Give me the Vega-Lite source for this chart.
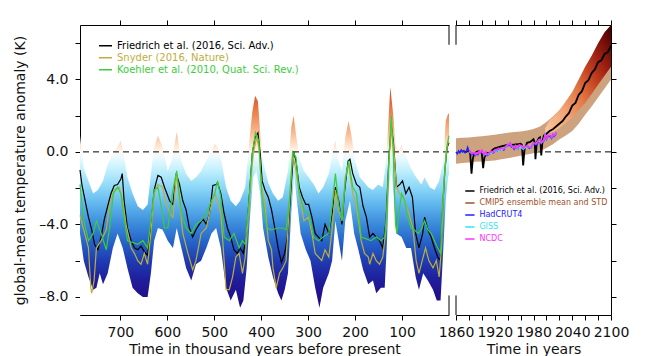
{
  "$schema": "https://vega.github.io/schema/vega-lite/v6.json",
  "background": "white",
  "padding": {"left": 13, "top": 19, "right": 5, "bottom": 2},
  "config": {
    "font": "DejaVu Sans",
    "view": {"stroke": null},
    "axis": {"domainColor": "#000", "tickColor": "#000", "labelColor": "#111", "titleColor": "#111", "labelFont": "DejaVu Sans", "titleFont": "DejaVu Sans", "labelFontSize": 14, "titleFontSize": 14, "titleFontWeight": "normal", "grid": false, "tickSize": 5, "labelFlush": false, "labelOverlap": false, "labelBound": false, "labelPadding": 7, "zindex": 1, "domainWidth": 1, "tickWidth": 1},
    "legend": {"labelFont": "DejaVu Sans"}
  },
  "datasets": {
    "lhi": [{"k":786,"v":0.9},{"k":778,"v":-0.9},{"k":768,"v":-1.6},{"k":758,"v":-2.3},{"k":748,"v":-2.1},{"k":737,"v":-1.6},{"k":727,"v":-0.7},{"k":716,"v":-0.1},{"k":706,"v":0.3},{"k":699,"v":0.6},{"k":692,"v":-0.3},{"k":685,"v":-1.4},{"k":674,"v":-2.3},{"k":663,"v":-3.0},{"k":652,"v":-3.2},{"k":642,"v":-2.9},{"k":635,"v":-1.2},{"k":628,"v":0.25},{"k":620,"v":0.9},{"k":610,"v":0.25},{"k":599,"v":-1.05},{"k":590,"v":-0.4},{"k":580,"v":1.1},{"k":570,"v":-0.5},{"k":560,"v":-1.2},{"k":549,"v":-1.6},{"k":539,"v":-1.4},{"k":528,"v":-1.05},{"k":517,"v":-0.5},{"k":506,"v":0.05},{"k":499,"v":0.45},{"k":493,"v":0.25},{"k":486,"v":-0.3},{"k":475,"v":-1.95},{"k":465,"v":-2.7},{"k":454,"v":-3.0},{"k":445,"v":-2.7},{"k":434,"v":-1.95},{"k":426,"v":0.4},{"k":419,"v":2.2},{"k":413,"v":3.1},{"k":407,"v":2.8},{"k":402,"v":1.0},{"k":396,"v":-0.5},{"k":385,"v":-1.7},{"k":375,"v":-2.3},{"k":364,"v":-2.7},{"k":354,"v":-2.5},{"k":343,"v":-1.05},{"k":336,"v":1.35},{"k":331,"v":2.0},{"k":326,"v":1.0},{"k":319,"v":-0.3},{"k":309,"v":-1.05},{"k":299,"v":-1.4},{"k":288,"v":-1.8},{"k":278,"v":-2.3},{"k":268,"v":-1.95},{"k":256,"v":-1.2},{"k":249,"v":-0.1},{"k":242,"v":0.6},{"k":235,"v":-0.5},{"k":228,"v":-1.05},{"k":221,"v":0.8},{"k":214,"v":1.7},{"k":207,"v":0.8},{"k":200,"v":-0.5},{"k":190,"v":-1.4},{"k":183,"v":-1.6},{"k":172,"v":-1.95},{"k":162,"v":-2.1},{"k":151,"v":-1.8},{"k":141,"v":-1.95},{"k":134,"v":-0.5},{"k":128,"v":2.2},{"k":125,"v":3.56},{"k":119,"v":2.1},{"k":114,"v":0.4},{"k":108,"v":0.05},{"k":101,"v":0.4},{"k":91,"v":-0.3},{"k":81,"v":-0.9},{"k":70,"v":-1.4},{"k":59,"v":-1.8},{"k":52,"v":-1.4},{"k":41,"v":-1.95},{"k":31,"v":-2.1},{"k":21,"v":-1.6},{"k":12,"v":-0.5},{"k":7,"v":1.7},{"k":2,"v":2.1},{"k":0,"v":2.1}],
    "llo": [{"k":786,"v":-4.5},{"k":778,"v":-6.0},{"k":768,"v":-6.9},{"k":758,"v":-7.6},{"k":751,"v":-7.5},{"k":744,"v":-6.7},{"k":737,"v":-7.3},{"k":727,"v":-6.7},{"k":716,"v":-5.3},{"k":706,"v":-4.5},{"k":695,"v":-5.3},{"k":685,"v":-6.4},{"k":674,"v":-7.5},{"k":663,"v":-7.8},{"k":652,"v":-8.0},{"k":642,"v":-8.0},{"k":635,"v":-6.7},{"k":628,"v":-4.9},{"k":620,"v":-4.2},{"k":610,"v":-4.3},{"k":599,"v":-4.9},{"k":588,"v":-5.3},{"k":580,"v":-4.2},{"k":570,"v":-5.3},{"k":560,"v":-6.4},{"k":549,"v":-7.1},{"k":539,"v":-6.2},{"k":528,"v":-6.0},{"k":517,"v":-5.3},{"k":506,"v":-4.5},{"k":496,"v":-4.2},{"k":486,"v":-5.3},{"k":475,"v":-7.5},{"k":465,"v":-8.2},{"k":454,"v":-7.6},{"k":445,"v":-8.6},{"k":438,"v":-8.2},{"k":431,"v":-6.4},{"k":424,"v":-3.6},{"k":417,"v":-1.4},{"k":410,"v":-1.05},{"k":402,"v":-2.3},{"k":396,"v":-4.2},{"k":385,"v":-5.8},{"k":375,"v":-6.9},{"k":364,"v":-7.8},{"k":357,"v":-8.2},{"k":350,"v":-7.6},{"k":343,"v":-6.7},{"k":336,"v":-3.4},{"k":330,"v":-1.2},{"k":324,"v":-2.7},{"k":316,"v":-4.5},{"k":305,"v":-5.4},{"k":295,"v":-6.0},{"k":285,"v":-7.5},{"k":276,"v":-8.6},{"k":268,"v":-7.5},{"k":256,"v":-6.7},{"k":249,"v":-6.0},{"k":242,"v":-3.8},{"k":235,"v":-4.9},{"k":228,"v":-6.0},{"k":221,"v":-3.8},{"k":211,"v":-2.7},{"k":202,"v":-4.5},{"k":194,"v":-5.3},{"k":183,"v":-6.5},{"k":172,"v":-7.3},{"k":162,"v":-7.1},{"k":155,"v":-7.8},{"k":145,"v":-7.5},{"k":137,"v":-7.5},{"k":132,"v":-4.9},{"k":128,"v":-1.95},{"k":123,"v":-0.85},{"k":118,"v":-2.3},{"k":112,"v":-4.5},{"k":101,"v":-4.7},{"k":91,"v":-5.3},{"k":81,"v":-5.3},{"k":71,"v":-6.9},{"k":64,"v":-7.6},{"k":55,"v":-6.7},{"k":45,"v":-7.1},{"k":34,"v":-7.6},{"k":26,"v":-8.2},{"k":18,"v":-8.2},{"k":12,"v":-5.3},{"k":7,"v":-2.7},{"k":2,"v":-1.4},{"k":0,"v":-1.2}],
    "fried": [{"k":786,"t":-1.0},{"k":782,"t":-1.8},{"k":775,"t":-2.7},{"k":768,"t":-3.6},{"k":761,"t":-4.3},{"k":755,"t":-5.1},{"k":748,"t":-5.4},{"k":741,"t":-4.7},{"k":734,"t":-3.7},{"k":727,"t":-3.0},{"k":720,"t":-2.3},{"k":713,"t":-1.85},{"k":706,"t":-1.8},{"k":699,"t":-1.5},{"k":696,"t":-1.2},{"k":692,"t":-2.7},{"k":685,"t":-4.2},{"k":677,"t":-4.9},{"k":670,"t":-5.3},{"k":663,"t":-5.4},{"k":656,"t":-5.2},{"k":649,"t":-5.5},{"k":642,"t":-5.7},{"k":635,"t":-4.2},{"k":628,"t":-2.1},{"k":620,"t":-1.3},{"k":613,"t":-1.4},{"k":606,"t":-1.95},{"k":595,"t":-2.7},{"k":588,"t":-2.9},{"k":581,"t":-1.2},{"k":574,"t":-1.8},{"k":567,"t":-2.7},{"k":560,"t":-3.2},{"k":553,"t":-4.2},{"k":546,"t":-4.7},{"k":539,"t":-4.3},{"k":532,"t":-4.0},{"k":524,"t":-3.7},{"k":517,"t":-4.0},{"k":510,"t":-3.4},{"k":503,"t":-1.85},{"k":496,"t":-1.8},{"k":493,"t":-1.7},{"k":486,"t":-2.3},{"k":479,"t":-3.4},{"k":472,"t":-4.2},{"k":465,"t":-4.7},{"k":458,"t":-5.4},{"k":451,"t":-5.6},{"k":445,"t":-5.3},{"k":438,"t":-5.6},{"k":431,"t":-4.5},{"k":424,"t":-1.95},{"k":419,"t":-0.1},{"k":413,"t":0.8},{"k":407,"t":1.05},{"k":402,"t":-0.1},{"k":398,"t":-1.6},{"k":392,"t":-2.1},{"k":385,"t":-2.5},{"k":378,"t":-3.2},{"k":371,"t":-4.2},{"k":364,"t":-5.3},{"k":357,"t":-6.1},{"k":350,"t":-5.6},{"k":343,"t":-4.5},{"k":336,"t":-1.8},{"k":331,"t":0.0},{"k":326,"t":-0.5},{"k":319,"t":-1.95},{"k":312,"t":-2.5},{"k":305,"t":-2.9},{"k":299,"t":-2.9},{"k":292,"t":-3.6},{"k":285,"t":-4.5},{"k":278,"t":-4.7},{"k":271,"t":-4.9},{"k":264,"t":-4.0},{"k":256,"t":-4.5},{"k":249,"t":-3.4},{"k":242,"t":-1.95},{"k":235,"t":-2.7},{"k":228,"t":-4.0},{"k":223,"t":-2.3},{"k":215,"t":-0.5},{"k":211,"t":-0.4},{"k":205,"t":-1.2},{"k":197,"t":-1.8},{"k":190,"t":-1.95},{"k":183,"t":-3.0},{"k":176,"t":-3.6},{"k":169,"t":-4.7},{"k":162,"t":-4.5},{"k":155,"t":-4.7},{"k":148,"t":-4.9},{"k":141,"t":-5.3},{"k":134,"t":-3.8},{"k":128,"t":-0.3},{"k":123,"t":1.45},{"k":118,"t":0.45},{"k":112,"t":-1.95},{"k":105,"t":-1.8},{"k":99,"t":-1.6},{"k":92,"t":-2.3},{"k":85,"t":-1.95},{"k":78,"t":-2.5},{"k":71,"t":-4.5},{"k":64,"t":-5.3},{"k":56,"t":-4.5},{"k":52,"t":-3.6},{"k":45,"t":-4.3},{"k":38,"t":-4.7},{"k":31,"t":-5.3},{"k":24,"t":-5.8},{"k":18,"t":-6.0},{"k":14,"t":-3.4},{"k":9,"t":-1.05},{"k":4,"t":0.25},{"k":0,"t":0.5}],
    "snyder": [{"k":786,"t":-3.5},{"k":778,"t":-4.3},{"k":768,"t":-5.3},{"k":763,"t":-7.5},{"k":761,"t":-7.8},{"k":756,"t":-7.1},{"k":751,"t":-5.3},{"k":741,"t":-4.9},{"k":730,"t":-4.3},{"k":723,"t":-2.9},{"k":713,"t":-2.1},{"k":702,"t":-1.95},{"k":695,"t":-2.7},{"k":688,"t":-4.0},{"k":677,"t":-5.3},{"k":670,"t":-5.6},{"k":663,"t":-6.0},{"k":656,"t":-6.2},{"k":649,"t":-5.6},{"k":642,"t":-6.2},{"k":635,"t":-4.5},{"k":628,"t":-2.3},{"k":620,"t":-1.8},{"k":610,"t":-1.95},{"k":602,"t":-2.9},{"k":592,"t":-3.5},{"k":588,"t":-3.6},{"k":581,"t":-1.2},{"k":574,"t":-2.7},{"k":567,"t":-4.5},{"k":556,"t":-5.6},{"k":546,"t":-6.5},{"k":539,"t":-6.0},{"k":528,"t":-4.5},{"k":517,"t":-4.2},{"k":506,"t":-2.9},{"k":499,"t":-2.3},{"k":493,"t":-2.7},{"k":486,"t":-3.4},{"k":479,"t":-6.0},{"k":475,"t":-7.6},{"k":468,"t":-7.6},{"k":461,"t":-6.9},{"k":454,"t":-5.8},{"k":447,"t":-5.6},{"k":440,"t":-6.7},{"k":434,"t":-5.8},{"k":424,"t":-2.3},{"k":417,"t":-0.1},{"k":410,"t":0.8},{"k":405,"t":0.25},{"k":399,"t":-1.95},{"k":392,"t":-2.9},{"k":385,"t":-4.9},{"k":378,"t":-5.4},{"k":375,"t":-6.4},{"k":368,"t":-7.5},{"k":361,"t":-6.7},{"k":354,"t":-6.4},{"k":347,"t":-6.0},{"k":340,"t":-3.0},{"k":333,"t":-0.1},{"k":326,"t":-1.05},{"k":319,"t":-2.3},{"k":309,"t":-3.8},{"k":299,"t":-3.6},{"k":292,"t":-4.5},{"k":285,"t":-5.6},{"k":278,"t":-5.8},{"k":271,"t":-6.0},{"k":264,"t":-5.4},{"k":256,"t":-5.8},{"k":249,"t":-4.3},{"k":242,"t":-2.1},{"k":235,"t":-3.2},{"k":228,"t":-3.8},{"k":221,"t":-1.4},{"k":214,"t":-0.7},{"k":205,"t":-2.3},{"k":197,"t":-3.0},{"k":187,"t":-4.9},{"k":180,"t":-5.6},{"k":172,"t":-5.8},{"k":169,"t":-6.2},{"k":162,"t":-5.6},{"k":155,"t":-6.0},{"k":148,"t":-6.2},{"k":141,"t":-5.8},{"k":134,"t":-4.2},{"k":128,"t":-0.5},{"k":123,"t":1.35},{"k":118,"t":0.25},{"k":112,"t":-1.95},{"k":105,"t":-2.3},{"k":98,"t":-2.5},{"k":88,"t":-3.2},{"k":77,"t":-4.2},{"k":70,"t":-6.0},{"k":64,"t":-6.7},{"k":57,"t":-6.0},{"k":50,"t":-5.3},{"k":43,"t":-6.0},{"k":34,"t":-6.4},{"k":27,"t":-6.0},{"k":21,"t":-6.9},{"k":16,"t":-5.3},{"k":11,"t":-1.8},{"k":6,"t":0.05},{"k":1,"t":0.6}],
    "koehler": [{"k":786,"t":-1.8},{"k":778,"t":-3.8},{"k":768,"t":-4.9},{"k":758,"t":-4.5},{"k":751,"t":-3.8},{"k":741,"t":-4.5},{"k":730,"t":-5.4},{"k":723,"t":-4.2},{"k":715,"t":-2.3},{"k":706,"t":-1.95},{"k":699,"t":-2.3},{"k":692,"t":-3.6},{"k":685,"t":-4.9},{"k":674,"t":-5.0},{"k":663,"t":-5.1},{"k":652,"t":-4.9},{"k":642,"t":-5.3},{"k":635,"t":-3.8},{"k":628,"t":-2.1},{"k":620,"t":-1.95},{"k":613,"t":-3.0},{"k":606,"t":-4.2},{"k":599,"t":-4.2},{"k":588,"t":-2.1},{"k":580,"t":-1.05},{"k":570,"t":-3.4},{"k":560,"t":-4.2},{"k":549,"t":-4.5},{"k":539,"t":-4.0},{"k":528,"t":-3.8},{"k":517,"t":-3.4},{"k":506,"t":-2.7},{"k":499,"t":-2.3},{"k":493,"t":-1.6},{"k":486,"t":-2.5},{"k":479,"t":-4.7},{"k":468,"t":-4.9},{"k":458,"t":-4.5},{"k":447,"t":-5.3},{"k":440,"t":-4.9},{"k":434,"t":-5.1},{"k":426,"t":-2.7},{"k":419,"t":-0.1},{"k":412,"t":1.05},{"k":405,"t":0.6},{"k":399,"t":-2.3},{"k":388,"t":-4.2},{"k":378,"t":-4.3},{"k":364,"t":-4.2},{"k":354,"t":-4.2},{"k":347,"t":-4.3},{"k":340,"t":-2.7},{"k":333,"t":0.0},{"k":326,"t":-0.3},{"k":319,"t":-2.3},{"k":309,"t":-3.2},{"k":299,"t":-3.4},{"k":288,"t":-4.7},{"k":278,"t":-4.9},{"k":268,"t":-4.7},{"k":256,"t":-4.5},{"k":249,"t":-3.0},{"k":242,"t":-1.2},{"k":235,"t":-2.9},{"k":228,"t":-3.8},{"k":221,"t":-1.6},{"k":214,"t":-0.5},{"k":205,"t":-1.95},{"k":197,"t":-2.3},{"k":187,"t":-4.7},{"k":176,"t":-4.8},{"k":166,"t":-4.9},{"k":155,"t":-4.7},{"k":145,"t":-4.9},{"k":137,"t":-4.7},{"k":132,"t":-3.2},{"k":128,"t":-0.5},{"k":123,"t":2.0},{"k":119,"t":0.05},{"k":114,"t":-4.0},{"k":111,"t":-4.5},{"k":108,"t":-3.6},{"k":101,"t":-2.3},{"k":94,"t":-2.7},{"k":88,"t":-3.6},{"k":81,"t":-4.2},{"k":74,"t":-4.3},{"k":66,"t":-4.5},{"k":59,"t":-4.3},{"k":52,"t":-3.8},{"k":45,"t":-4.3},{"k":38,"t":-4.5},{"k":31,"t":-4.9},{"k":24,"t":-5.3},{"k":18,"t":-5.6},{"k":14,"t":-3.0},{"k":9,"t":-1.2},{"k":4,"t":0.4},{"k":0,"t":0.9}],
    "rtan": [{"year":1860,"lo":-0.66,"hi":0.75},{"year":1870,"lo":-0.62,"hi":0.78},{"year":1880,"lo":-0.58,"hi":0.8},{"year":1890,"lo":-0.55,"hi":0.83},{"year":1900,"lo":-0.53,"hi":0.86},{"year":1910,"lo":-0.5,"hi":0.9},{"year":1920,"lo":-0.47,"hi":0.95},{"year":1930,"lo":-0.41,"hi":1.0},{"year":1940,"lo":-0.35,"hi":1.05},{"year":1950,"lo":-0.28,"hi":1.09},{"year":1960,"lo":-0.22,"hi":1.12},{"year":1970,"lo":-0.15,"hi":1.18},{"year":1980,"lo":-0.08,"hi":1.26},{"year":1990,"lo":0.05,"hi":1.4},{"year":2000,"lo":0.22,"hi":1.65},{"year":2010,"lo":0.42,"hi":1.95},{"year":2020,"lo":0.68,"hi":2.3},{"year":2030,"lo":0.9,"hi":2.7},{"year":2040,"lo":1.15,"hi":3.1},{"year":2050,"lo":1.55,"hi":3.6},{"year":2060,"lo":2.05,"hi":4.1},{"year":2070,"lo":2.5,"hi":4.6},{"year":2080,"lo":3.0,"hi":5.1},{"year":2090,"lo":3.5,"hi":5.5},{"year":2100,"lo":4.0,"hi":5.9}],
    "rred": [{"year":1998,"lo":1.0,"hi":1.3},{"year":2005,"lo":1.05,"hi":1.75},{"year":2010,"lo":1.1,"hi":1.9},{"year":2020,"lo":1.3,"hi":2.3},{"year":2030,"lo":1.6,"hi":2.8},{"year":2040,"lo":1.9,"hi":3.3},{"year":2050,"lo":2.3,"hi":4.0},{"year":2060,"lo":2.7,"hi":4.7},{"year":2070,"lo":3.2,"hi":5.3},{"year":2080,"lo":3.7,"hi":6.0},{"year":2090,"lo":4.2,"hi":6.6},{"year":2100,"lo":4.7,"hi":7.0}],
    "rfried": [{"year":1870,"t":0.05},{"year":1875,"t":0.0},{"year":1880,"t":0.05},{"year":1882,"t":-0.1},{"year":1884,"t":-1.2},{"year":1886,"t":-0.4},{"year":1888,"t":-0.1},{"year":1892,"t":0.0},{"year":1896,"t":0.05},{"year":1900,"t":-0.1},{"year":1902,"t":-0.9},{"year":1904,"t":-0.3},{"year":1908,"t":-0.05},{"year":1912,"t":-0.1},{"year":1916,"t":0.1},{"year":1920,"t":0.2},{"year":1925,"t":0.25},{"year":1930,"t":0.3},{"year":1935,"t":0.35},{"year":1940,"t":0.4},{"year":1945,"t":0.38},{"year":1950,"t":0.4},{"year":1955,"t":0.42},{"year":1960,"t":0.45},{"year":1962,"t":0.4},{"year":1964,"t":-0.75},{"year":1966,"t":0.1},{"year":1970,"t":0.5},{"year":1975,"t":0.55},{"year":1980,"t":0.7},{"year":1982,"t":0.5},{"year":1983,"t":-0.4},{"year":1985,"t":0.5},{"year":1988,"t":0.75},{"year":1990,"t":0.8},{"year":1991,"t":0.5},{"year":1992,"t":-0.2},{"year":1994,"t":0.6},{"year":1996,"t":0.9},{"year":2000,"t":1.0},{"year":2005,"t":1.15},{"year":2010,"t":1.25},{"year":2015,"t":1.4},{"year":2020,"t":1.55},{"year":2025,"t":1.7},{"year":2030,"t":1.95},{"year":2035,"t":2.15},{"year":2040,"t":2.55},{"year":2045,"t":2.7},{"year":2050,"t":3.15},{"year":2055,"t":3.35},{"year":2060,"t":3.8},{"year":2065,"t":3.95},{"year":2070,"t":4.35},{"year":2075,"t":4.55},{"year":2080,"t":4.95},{"year":2085,"t":5.05},{"year":2090,"t":5.4},{"year":2095,"t":5.5},{"year":2100,"t":5.85}],
    "hadcrut": [{"year":1860,"t":0.0},{"year":1862,"t":-0.1},{"year":1864,"t":0.05},{"year":1866,"t":-0.05},{"year":1868,"t":0.1},{"year":1870,"t":0.0},{"year":1872,"t":0.05},{"year":1874,"t":-0.05},{"year":1876,"t":0.0},{"year":1878,"t":0.25},{"year":1880,"t":0.05},{"year":1882,"t":0.0},{"year":1884,"t":-0.15},{"year":1886,"t":-0.1},{"year":1888,"t":-0.1},{"year":1890,"t":-0.2},{"year":1892,"t":-0.1},{"year":1894,"t":-0.15},{"year":1896,"t":0.0},{"year":1898,"t":-0.05},{"year":1900,"t":0.05},{"year":1902,"t":-0.05},{"year":1904,"t":-0.2},{"year":1906,"t":-0.05},{"year":1908,"t":-0.2},{"year":1910,"t":-0.15},{"year":1912,"t":-0.1},{"year":1914,"t":0.0},{"year":1916,"t":-0.05},{"year":1918,"t":-0.05},{"year":1920,"t":0.05},{"year":1922,"t":0.05},{"year":1924,"t":0.05},{"year":1926,"t":0.15},{"year":1928,"t":0.1},{"year":1930,"t":0.15},{"year":1932,"t":0.15},{"year":1934,"t":0.1},{"year":1936,"t":0.2},{"year":1938,"t":0.3},{"year":1940,"t":0.35},{"year":1942,"t":0.35},{"year":1944,"t":0.45},{"year":1946,"t":0.25},{"year":1948,"t":0.25},{"year":1950,"t":0.15},{"year":1952,"t":0.3},{"year":1954,"t":0.2},{"year":1956,"t":0.15},{"year":1958,"t":0.35},{"year":1960,"t":0.3},{"year":1962,"t":0.3},{"year":1964,"t":0.15},{"year":1966,"t":0.25},{"year":1968,"t":0.25},{"year":1970,"t":0.3},{"year":1972,"t":0.25},{"year":1974,"t":0.2},{"year":1976,"t":0.2},{"year":1978,"t":0.35},{"year":1980,"t":0.45},{"year":1982,"t":0.4},{"year":1984,"t":0.4},{"year":1986,"t":0.45},{"year":1988,"t":0.6},{"year":1990,"t":0.65},{"year":1992,"t":0.45},{"year":1994,"t":0.55},{"year":1996,"t":0.6},{"year":1998,"t":0.9},{"year":2000,"t":0.7},{"year":2002,"t":0.85},{"year":2004,"t":0.85},{"year":2006,"t":0.85},{"year":2008,"t":0.75},{"year":2010,"t":0.95},{"year":2012,"t":0.85},{"year":2014,"t":0.95},{"year":2015,"t":1.05}],
    "giss": [{"year":1880,"t":0.0},{"year":1884,"t":-0.05},{"year":1888,"t":-0.05},{"year":1892,"t":-0.1},{"year":1896,"t":0.0},{"year":1900,"t":0.05},{"year":1904,"t":-0.15},{"year":1908,"t":-0.15},{"year":1912,"t":-0.1},{"year":1916,"t":-0.05},{"year":1920,"t":0.05},{"year":1924,"t":0.05},{"year":1928,"t":0.1},{"year":1932,"t":0.15},{"year":1936,"t":0.2},{"year":1940,"t":0.4},{"year":1944,"t":0.45},{"year":1948,"t":0.25},{"year":1952,"t":0.3},{"year":1956,"t":0.15},{"year":1960,"t":0.3},{"year":1964,"t":0.15},{"year":1968,"t":0.25},{"year":1972,"t":0.3},{"year":1976,"t":0.2},{"year":1980,"t":0.5},{"year":1984,"t":0.45},{"year":1988,"t":0.65},{"year":1992,"t":0.5},{"year":1996,"t":0.65},{"year":1998,"t":0.95},{"year":2000,"t":0.75},{"year":2002,"t":0.9},{"year":2004,"t":0.9},{"year":2006,"t":0.9},{"year":2008,"t":0.8},{"year":2010,"t":1.0},{"year":2012,"t":0.9},{"year":2014,"t":1.0},{"year":2015,"t":1.1}],
    "ncdc": [{"year":1880,"t":0.05},{"year":1882,"t":0.05},{"year":1884,"t":-0.1},{"year":1886,"t":-0.05},{"year":1888,"t":-0.05},{"year":1890,"t":-0.15},{"year":1892,"t":-0.05},{"year":1894,"t":-0.1},{"year":1896,"t":0.05},{"year":1898,"t":-0.05},{"year":1900,"t":0.1},{"year":1902,"t":0.0},{"year":1904,"t":-0.15},{"year":1906,"t":0.0},{"year":1908,"t":-0.15},{"year":1910,"t":-0.1},{"year":1912,"t":-0.05},{"year":1914,"t":0.05},{"year":1916,"t":0.0},{"year":1918,"t":0.0},{"year":1920,"t":0.1},{"year":1922,"t":0.1},{"year":1924,"t":0.1},{"year":1926,"t":0.2},{"year":1928,"t":0.15},{"year":1930,"t":0.2},{"year":1932,"t":0.2},{"year":1934,"t":0.15},{"year":1936,"t":0.25},{"year":1938,"t":0.35},{"year":1940,"t":0.4},{"year":1942,"t":0.4},{"year":1944,"t":0.5},{"year":1946,"t":0.3},{"year":1948,"t":0.3},{"year":1950,"t":0.2},{"year":1952,"t":0.35},{"year":1954,"t":0.25},{"year":1956,"t":0.2},{"year":1958,"t":0.4},{"year":1960,"t":0.35},{"year":1962,"t":0.35},{"year":1964,"t":0.2},{"year":1966,"t":0.3},{"year":1968,"t":0.3},{"year":1970,"t":0.35},{"year":1972,"t":0.3},{"year":1974,"t":0.25},{"year":1976,"t":0.25},{"year":1978,"t":0.4},{"year":1980,"t":0.5},{"year":1982,"t":0.45},{"year":1984,"t":0.45},{"year":1986,"t":0.5},{"year":1988,"t":0.65},{"year":1990,"t":0.7},{"year":1992,"t":0.5},{"year":1994,"t":0.6},{"year":1996,"t":0.65},{"year":1998,"t":0.95},{"year":2000,"t":0.75},{"year":2002,"t":0.9},{"year":2004,"t":0.9},{"year":2006,"t":0.9},{"year":2008,"t":0.8},{"year":2010,"t":1.0},{"year":2012,"t":0.9},{"year":2014,"t":1.0},{"year":2015,"t":1.1}]
  },
  "hconcat": [
    {
      "width": 369,
      "height": 290,
      "resolve": {"axis": {"x": "independent", "y": "independent"}},
      "layer": [
        {
          "data": {"name": "lhi"},
          "mark": {"type": "area", "color": {"gradient": "linear", "x1": 0, "y1": 1, "x2": 0, "y2": 0, "stops": [
            {"offset": 0, "color": "#1e0a80"},
            {"offset": 0.0796, "color": "#220f8c"},
            {"offset": 0.159, "color": "#1f1f9c"},
            {"offset": 0.239, "color": "#1f3cb2"},
            {"offset": 0.318, "color": "#2562c8"},
            {"offset": 0.398, "color": "#3a8ada"},
            {"offset": 0.478, "color": "#5cb2ec"},
            {"offset": 0.557, "color": "#8ad6f7"},
            {"offset": 0.637, "color": "#c2f0fd"},
            {"offset": 0.693, "color": "#ecfaff"},
            {"offset": 0.717, "color": "#fff7f0"},
            {"offset": 0.756, "color": "#fddcc2"},
            {"offset": 0.796, "color": "#f8bd96"},
            {"offset": 0.86, "color": "#f09462"},
            {"offset": 0.924, "color": "#e56c3e"},
            {"offset": 1, "color": "#d04a28"}]}},
          "encoding": {
            "x": {"field": "k", "type": "quantitative", "scale": {"domain": [786, 0], "nice": false, "zero": false},
                  "axis": {"orient": "bottom", "values": [700, 600, 500, 400, 300, 200, 100], "title": "Time in thousand years before present", "labelPadding": 5, "titlePadding": 3}},
            "y": {"field": "v", "type": "quantitative", "scale": {"domain": [-9, 7], "nice": false, "zero": false},
                  "axis": {"orient": "left", "values": [-8, -6, -4, -2, 0, 2, 4, 6], "labelExpr": "datum.value % 4 == 0 ? replace(format(datum.value, '.1f'), '−', '–') : ''", "title": "global-mean temperature anomaly (K)", "titlePadding": 11}},
            "y2": {"datum": -9}
          }
        },
        {
          "data": {"name": "llo"},
          "mark": {"type": "area", "color": "white"},
          "encoding": {
            "x": {"field": "k", "type": "quantitative", "axis": {"orient": "top", "values": [700, 600, 500, 400, 300, 200, 100], "labels": false, "title": null}},
            "y": {"field": "v", "type": "quantitative", "axis": null},
            "y2": {"datum": -9}
          }
        },
        {
          "data": {"values": [{}]},
          "mark": {"type": "rule", "color": "#000", "strokeWidth": 1, "strokeDash": [6, 4]},
          "encoding": {"y": {"datum": 0, "type": "quantitative", "axis": null}}
        },
        {
          "data": {"name": "fried"},
          "mark": {"type": "line", "strokeWidth": 1.2},
          "encoding": {
            "x": {"field": "k", "type": "quantitative", "axis": null},
            "y": {"field": "t", "type": "quantitative", "axis": null},
            "color": {"datum": "Friedrich et al. (2016, Sci. Adv.)", "type": "nominal",
              "scale": {"domain": ["Friedrich et al. (2016, Sci. Adv.)", "Snyder (2016, Nature)", "Koehler et al. (2010, Quat. Sci. Rev.)"], "range": ["#000000", "#beae3c", "#3ccc3c"]},
              "legend": {"orient": "none", "legendX": 18, "legendY": 14.7, "title": null, "padding": 0, "symbolType": "stroke", "symbolSize": 169, "symbolStrokeWidth": 1.5, "labelFontSize": 10, "labelOffset": 4, "labelLimit": 400, "clipHeight": 12, "rowPadding": 0,
                "encode": {"labels": {"update": {"fill": {"signal": "['#000000', '#beae3c', '#3ccc3c'][datum.index]"}}}}}}
          }
        },
        {
          "data": {"name": "snyder"},
          "mark": {"type": "line", "strokeWidth": 1.2},
          "encoding": {
            "x": {"field": "k", "type": "quantitative", "axis": null},
            "y": {"field": "t", "type": "quantitative", "axis": null},
            "color": {"datum": "Snyder (2016, Nature)", "type": "nominal"}
          }
        },
        {
          "data": {"name": "koehler"},
          "mark": {"type": "line", "strokeWidth": 1.2},
          "encoding": {
            "x": {"field": "k", "type": "quantitative", "axis": null},
            "y": {"field": "t", "type": "quantitative", "axis": null},
            "color": {"datum": "Koehler et al. (2010, Quat. Sci. Rev.)", "type": "nominal"}
          }
        },
        {
          "data": {"values": [{}]},
          "mark": {"type": "rule", "color": "#000", "strokeWidth": 1},
          "encoding": {"x": {"datum": 0, "type": "quantitative", "axis": null}, "y": {"datum": 7, "type": "quantitative", "axis": null}, "y2": {"datum": 5.91}}
        },
        {
          "data": {"values": [{}]},
          "mark": {"type": "rule", "color": "#000", "strokeWidth": 1},
          "encoding": {"x": {"datum": 0, "type": "quantitative", "axis": null}, "y": {"datum": -7.92, "type": "quantitative", "axis": null}, "y2": {"datum": -9}}
        }
      ]
    },
    {
      "width": 155,
      "height": 290,
      "resolve": {"axis": {"x": "independent", "y": "independent"}},
      "layer": [
        {
          "data": {"values": [{}]},
          "mark": {"type": "rule", "color": "#000", "strokeWidth": 1, "strokeDash": [6, 4]},
          "encoding": {"y": {"datum": 0, "type": "quantitative", "scale": {"domain": [-9, 7], "nice": false, "zero": false}, "axis": null}}
        },
        {
          "data": {"name": "rtan"},
          "mark": {"type": "area", "color": "#cca37e"},
          "encoding": {
            "x": {"field": "year", "type": "quantitative", "scale": {"domain": [1860, 2100], "nice": false, "zero": false},
                  "axis": {"orient": "bottom", "values": [1860, 1880, 1900, 1920, 1940, 1960, 1980, 2000, 2020, 2040, 2060, 2080, 2100], "labelExpr": "(datum.value - 1860) % 60 == 0 ? '' + datum.value : ''", "title": "Time in years", "labelPadding": 5, "titlePadding": 3}},
            "y": {"field": "hi", "type": "quantitative", "axis": {"orient": "right", "values": [-8, -6, -4, -2, 0, 2, 4, 6], "labels": false, "title": null}},
            "y2": {"field": "lo"}
          }
        },
        {
          "data": {"name": "rred"},
          "mark": {"type": "area", "color": {"gradient": "linear", "x1": 0, "y1": 1, "x2": 1, "y2": 0, "stops": [
            {"offset": 0, "color": "#fac8a0"},
            {"offset": 0.25, "color": "#f2a474"},
            {"offset": 0.45, "color": "#e07644"},
            {"offset": 0.6, "color": "#c84824"},
            {"offset": 0.75, "color": "#a02212"},
            {"offset": 0.9, "color": "#6a0a06"},
            {"offset": 1, "color": "#3c0000"}]}},
          "encoding": {
            "x": {"field": "year", "type": "quantitative", "axis": {"orient": "top", "values": [1860, 1880, 1900, 1920, 1940, 1960, 1980, 2000, 2020, 2040, 2060, 2080, 2100], "labels": false, "title": null}},
            "y": {"field": "hi", "type": "quantitative", "axis": null},
            "y2": {"field": "lo"}
          }
        },
        {
          "data": {"name": "rfried"},
          "mark": {"type": "line", "strokeWidth": 1.8},
          "encoding": {
            "x": {"field": "year", "type": "quantitative", "axis": null},
            "y": {"field": "t", "type": "quantitative", "axis": null},
            "color": {"datum": "Friedrich et al. (2016, Sci. Adv.)", "type": "nominal",
              "scale": {"domain": ["Friedrich et al. (2016, Sci. Adv.)", "CMIP5 ensemble mean and STD", "HadCRUT4", "GISS", "NCDC"], "range": ["#000000", "#a0502a", "#2020ff", "#30e6f0", "#ff30ff"]},
              "legend": {"orient": "none", "legendX": 8.4, "legendY": 160.3, "title": null, "padding": 0, "symbolType": "stroke", "symbolSize": 86, "symbolStrokeWidth": 1.5, "labelFontSize": 8, "labelOffset": 4, "labelLimit": 400, "clipHeight": 11.5, "rowPadding": 0,
                "encode": {"labels": {"update": {"fill": {"signal": "['#000000', '#a0502a', '#2020ff', '#30e6f0', '#ff30ff'][datum.index]"}}}}}}
          }
        },
        {
          "data": {"name": "hadcrut"},
          "mark": {"type": "line", "strokeWidth": 1.5},
          "encoding": {
            "x": {"field": "year", "type": "quantitative", "axis": null},
            "y": {"field": "t", "type": "quantitative", "axis": null},
            "color": {"datum": "HadCRUT4", "type": "nominal"}
          }
        },
        {
          "data": {"name": "giss"},
          "mark": {"type": "line", "strokeWidth": 1.5},
          "encoding": {
            "x": {"field": "year", "type": "quantitative", "axis": null},
            "y": {"field": "t", "type": "quantitative", "axis": null},
            "color": {"datum": "GISS", "type": "nominal"}
          }
        },
        {
          "data": {"name": "ncdc"},
          "mark": {"type": "line", "strokeWidth": 1.5},
          "encoding": {
            "x": {"field": "year", "type": "quantitative", "axis": null},
            "y": {"field": "t", "type": "quantitative", "axis": null},
            "color": {"datum": "NCDC", "type": "nominal"}
          }
        },
        {
          "data": {"values": [{}]},
          "mark": {"type": "rule", "color": "#000", "strokeWidth": 1},
          "encoding": {"x": {"datum": 1860, "type": "quantitative", "axis": null}, "y": {"datum": 7, "type": "quantitative", "axis": null}, "y2": {"datum": 5.91}}
        },
        {
          "data": {"values": [{}]},
          "mark": {"type": "rule", "color": "#000", "strokeWidth": 1},
          "encoding": {"x": {"datum": 1860, "type": "quantitative", "axis": null}, "y": {"datum": -7.92, "type": "quantitative", "axis": null}, "y2": {"datum": -9}}
        }
      ]
    }
  ],
  "spacing": 7,
  "bounds": "flush",
  "resolve": {"scale": {"color": "independent"}, "legend": {"color": "independent"}}
}
